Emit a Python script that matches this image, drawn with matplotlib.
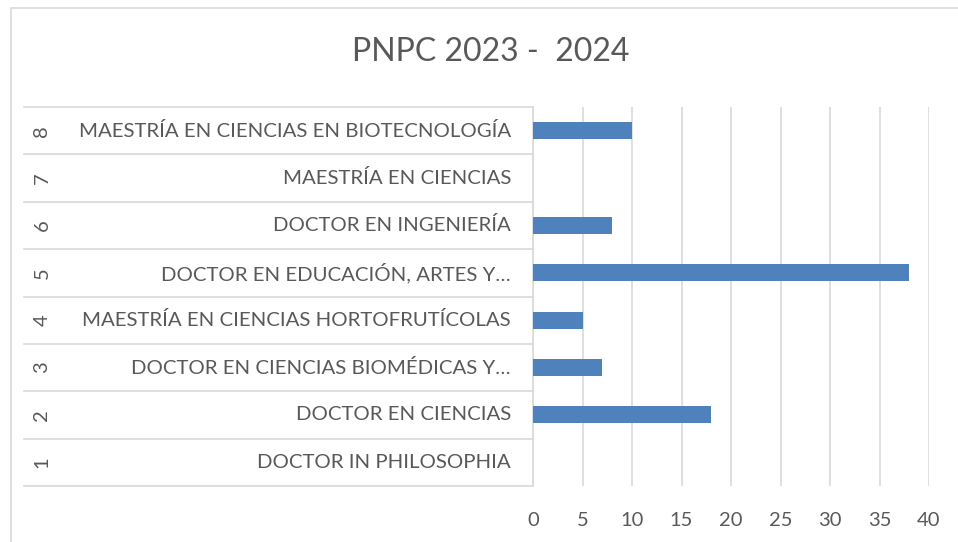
import matplotlib
matplotlib.use("Agg")
import matplotlib.pyplot as plt
from matplotlib.transforms import blended_transform_factory
from matplotlib.patches import Rectangle

categories = ["1", "2", "3", "4", "5", "6", "7", "8"]
programs = [
    "DOCTOR IN PHILOSOPHIA",
    "DOCTOR EN CIENCIAS",
    "DOCTOR EN CIENCIAS BIOMÉDICAS Y…",
    "MAESTRÍA EN CIENCIAS HORTOFRUTÍCOLAS",
    "DOCTOR EN EDUCACIÓN, ARTES Y…",
    "DOCTOR EN INGENIERÍA",
    "MAESTRÍA EN CIENCIAS",
    "MAESTRÍA EN CIENCIAS EN BIOTECNOLOGÍA",
]
values = [0, 18, 7, 5, 38, 8, 0, 10]
xticks = [0, 5, 10, 15, 20, 25, 30, 35, 40]
title = "PNPC 2023 -  2024"

W, H = 958, 542
fig = plt.figure(figsize=(W / 100, H / 100), dpi=100)
plt.rcParams['font.family'] = ['Lato', 'DejaVu Sans']
txt = "#595959"
grid = "#D9D9D9"

# chart frame
fig.patches.append(Rectangle((11 / W, -0.1), 1.2, (H - 8) / H + 0.1, transform=fig.transFigure,
                             fill=False, edgecolor=grid, linewidth=1.2))

left, right, top, bottom = 533, 929, 107, 486
ax = fig.add_axes([left / W, 1 - bottom / H, (right - left) / W, (bottom - top) / H])
pos = list(range(len(categories)))
ax.barh(pos, values, height=0.36, color="#4F81BD", zorder=3)
ax.set_xlim(0, 40)
ax.set_ylim(-0.5, len(categories) - 0.5)
ax.set_xticks(xticks)
ax.set_xticklabels([str(t) for t in xticks], fontsize=14.5, color=txt)
ax.tick_params(axis="x", length=0, pad=19)
ax.set_yticks([])
ax.grid(axis="x", color=grid, linewidth=1.2, zorder=0)
for s in ax.spines.values():
    s.set_visible(False)

tr = blended_transform_factory(fig.transFigure, ax.transData)
for i in range(len(categories) + 1):
    ax.plot([24 / W, left / W], [i - 0.5, i - 0.5], transform=tr, color=grid,
            linewidth=1.2, clip_on=False)
ax.plot([left / W, left / W], [-0.5, len(categories) - 0.5], transform=tr, color=grid,
        linewidth=1.2, clip_on=False)

for i, (c, p) in enumerate(zip(categories, programs)):
    ax.text(511 / W, i, p, transform=tr, ha="right", va="center", fontsize=14.7, color=txt)
    ax.text(42 / W, i, c, transform=tr, ha="center", va="center", fontsize=14.5, color=txt,
            rotation=90)

fig.text(491 / W, 1 - 52 / H, title, ha="center", va="center", fontsize=23, color=txt)

fig.savefig("out.png", dpi=100)
